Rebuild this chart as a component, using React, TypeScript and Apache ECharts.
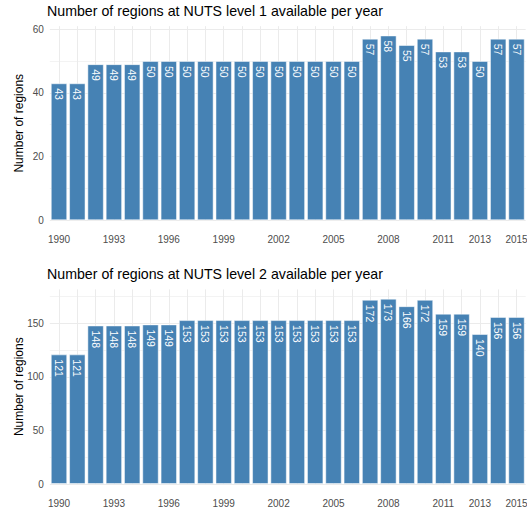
import React, { useEffect, useRef } from "react";
import * as echarts from "echarts";

const years = [
  "1990", "1991", "1992", "1993", "1994", "1995", "1996", "1997", "1998",
  "1999", "2000", "2001", "2002", "2003", "2004", "2005", "2006", "2007",
  "2008", "2009", "2010", "2011", "2012", "2013", "2014", "2015",
];
const nuts1 = [43, 43, 49, 49, 49, 50, 50, 50, 50, 50, 50, 50, 50, 50, 50, 50, 50, 57, 58, 55, 57, 53, 53, 50, 57, 57];
const nuts2 = [121, 121, 148, 148, 148, 149, 149, 153, 153, 153, 153, 153, 153, 153, 153, 153, 153, 172, 173, 166, 172, 159, 159, 140, 156, 156];
const xTickLabels = ["1990", "1993", "1996", "1999", "2002", "2005", "2008", "2011", "2013", "2015"];
const y1Major = [0, 20, 40, 60];
const y1Minor = [10, 30, 50];
const y2Major = [0, 50, 100, 150];
const y2Minor = [25, 75, 125, 175];
const titles = [
  "Number of regions at NUTS level 1 available per year",
  "Number of regions at NUTS level 2 available per year",
];

const FONT = "Liberation Sans, Arial, sans-serif";
const BAR = "#4682B4";

export default function App() {
  const ref = useRef<HTMLDivElement>(null);
  useEffect(() => {
    if (!ref.current) return;
    const chart = echarts.init(ref.current, null, { renderer: "svg" });

    const panel = (idx: number, data: number[], ymax: number, interval: number, major: number[], minor: number[]) => {
      const xAxis = {
        type: "category",
        gridIndex: idx,
        data: years,
        axisLine: { show: false },
        axisTick: { show: false },
        splitLine: { show: false },
        axisLabel: {
          interval: (_i: number, v: string) => xTickLabels.includes(v),
          color: "#4d4d4d",
          fontSize: 10,
          fontFamily: FONT,
          margin: 14,
          hideOverlap: false,
        },
      };
      const yAxis = {
        type: "value",
        gridIndex: idx,
        min: 0,
        max: ymax,
        interval,
        name: "Number of regions",
        nameLocation: "middle",
        nameGap: 25,
        nameMoveOverlap: false,
        nameTextStyle: { color: "#000", fontSize: 12, fontFamily: FONT },
        axisLine: { show: false },
        axisTick: { show: false },
        splitLine: { show: false },
        axisLabel: {
          showMaxLabel: false,
          color: "#4d4d4d",
          fontSize: 10,
          fontFamily: FONT,
          margin: 6,
        },
      };
      const gridSeries = {
        type: "line",
        xAxisIndex: idx,
        yAxisIndex: idx,
        data: data,
        symbol: "none",
        silent: true,
        z: 0,
        lineStyle: { width: 0, opacity: 0 },
        markLine: {
          silent: true,
          symbol: "none",
          z: 0,
          label: { show: false },
          emphasis: { disabled: true },
          data: [
            ...minor.map((v) => ({ yAxis: v, lineStyle: { color: "#f3f3f3", width: 1, type: "solid" } })),
            ...years.map((y) => ({ xAxis: y, lineStyle: { color: "#ebebeb", width: 1, type: "solid" } })),
            ...major.map((v) => ({ yAxis: v, lineStyle: { color: "#ebebeb", width: 1, type: "solid" } })),
          ],
        },
      };
      const barSeries = {
        type: "bar",
        xAxisIndex: idx,
        yAxisIndex: idx,
        data: data,
        barWidth: "90%",
        z: 3,
        itemStyle: { color: BAR, borderColor: "rgba(255,255,255,0.5)", borderWidth: 1 },
        label: {
          show: true,
          position: "insideTop",
          distance: 5,
          rotate: -90,
          align: "left",
          verticalAlign: "middle",
          color: "#ffffff",
          fontSize: 10.5,
          fontFamily: FONT,
          formatter: "{c}",
        },
      };
      return { xAxis, yAxis, series: [gridSeries, barSeries] };
    };

    const p1 = panel(0, nuts1, 60.9, 20, y1Major, y1Minor);
    const p2 = panel(1, nuts2, 181.65, 50, y2Major, y2Minor);

    chart.setOption({
      animation: false,
      backgroundColor: "#ffffff",
      title: [
        { text: titles[0], left: 47, top: 4, padding: 0, textStyle: { color: "#000", fontSize: 14.2, fontWeight: "normal", fontFamily: FONT } },
        { text: titles[1], left: 47, top: 267, padding: 0, textStyle: { color: "#000", fontSize: 14.2, fontWeight: "normal", fontFamily: FONT } },
      ],
      grid: [
        { left: 49.85, width: 475.8, top: 26.2, height: 194.1, containLabel: false, outerBoundsMode: "none" },
        { left: 49.85, width: 475.8, top: 289.4, height: 194.6, containLabel: false, outerBoundsMode: "none" },
      ],
      xAxis: [p1.xAxis, p2.xAxis],
      yAxis: [p1.yAxis, p2.yAxis],
      series: [...p1.series, ...p2.series],
    });
    return () => chart.dispose();
  }, []);
  return <div ref={ref} style={{ position: "fixed", left: 0, top: 0, width: 527, height: 510 }} />;
}
